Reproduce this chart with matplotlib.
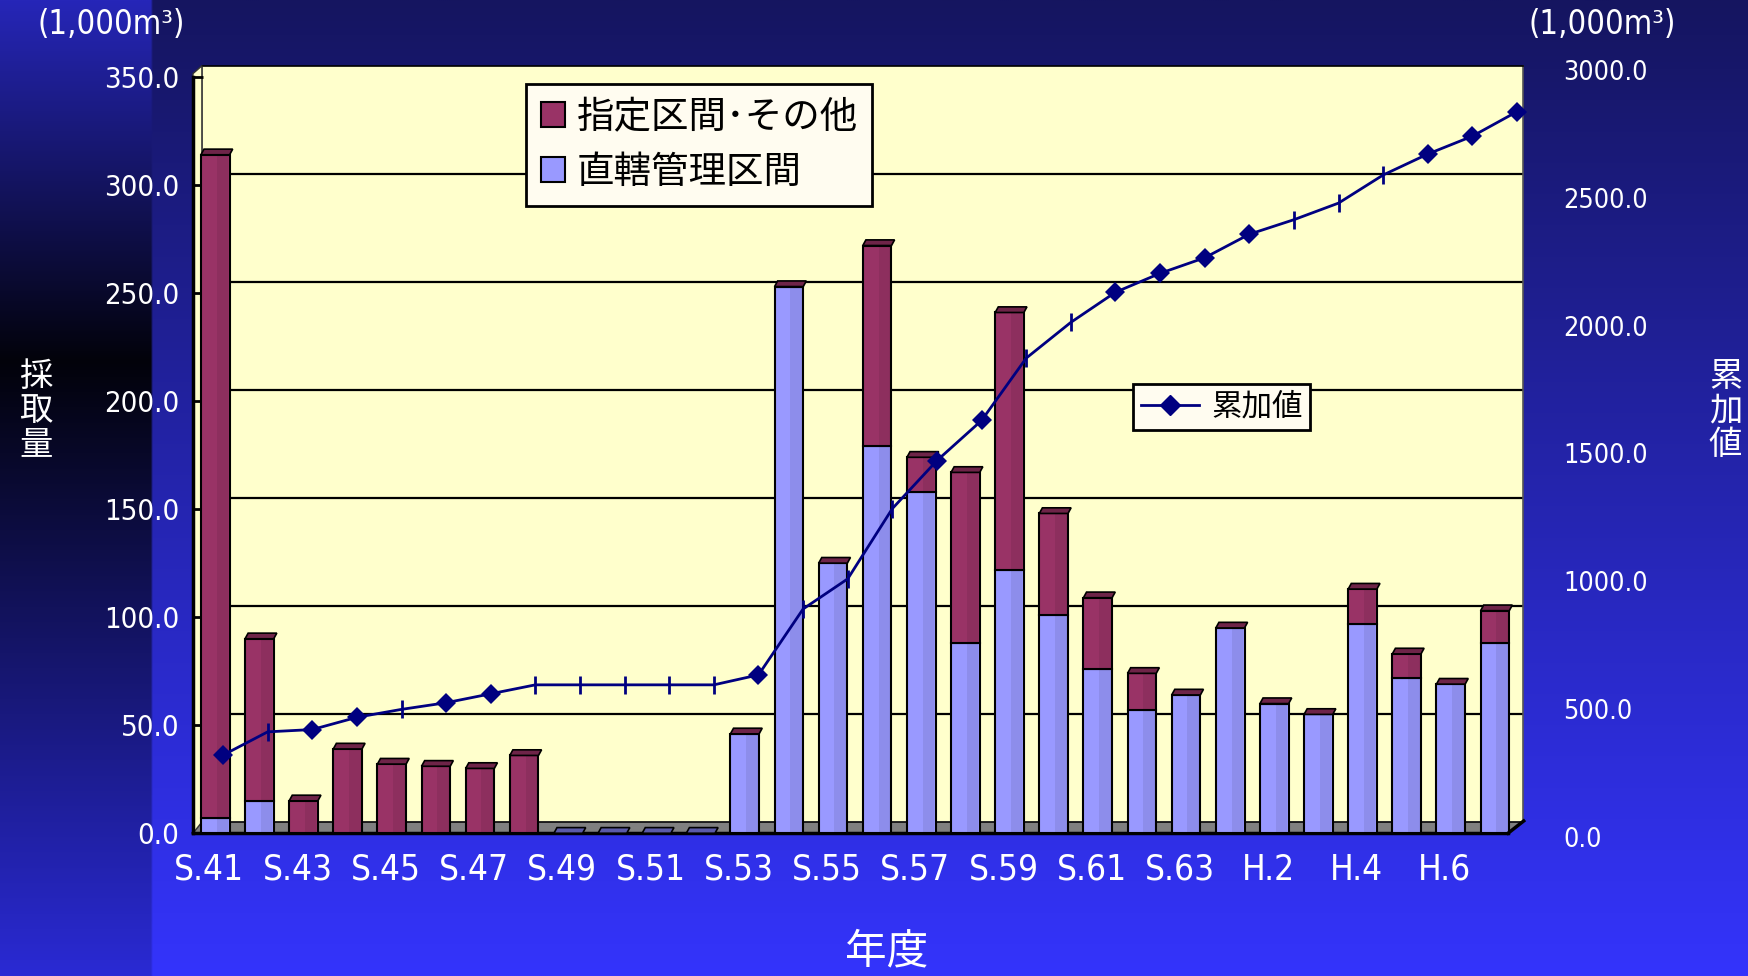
import numpy as np
import matplotlib
matplotlib.use('Agg')
import matplotlib.pyplot as plt
from matplotlib import font_manager as fm
from matplotlib.patches import Patch, Polygon
from matplotlib.lines import Line2D
from matplotlib.transforms import ScaledTranslation

# ---- data (1,000 m3) ----
years = ['S.41', 'S.42', 'S.43', 'S.44', 'S.45', 'S.46', 'S.47', 'S.48', 'S.49', 'S.50',
         'S.51', 'S.52', 'S.53', 'S.54', 'S.55', 'S.56', 'S.57', 'S.58', 'S.59', 'S.60',
         'S.61', 'S.62', 'S.63', 'H.1', 'H.2', 'H.3', 'H.4', 'H.5', 'H.6', 'H.7']
chokkatsu = [7, 15, 0, 0, 0, 0, 0, 0, 0, 0, 0, 0, 46, 253, 125,
             179, 158, 88, 122, 101, 76, 57, 64, 95, 60, 55, 97, 72, 69, 88]
shitei = [307, 75, 15, 39, 32, 31, 30, 36, 0, 0, 0, 0, 0, 0, 0,
          93, 16, 79, 119, 47, 33, 17, 0, 0, 0, 0, 16, 11, 0, 15]
ruika = [319, 410, 419, 467, 498, 524, 559, 594, 594, 594, 594, 594, 633, 891, 1009,
         1284, 1472, 1629, 1873, 2013, 2131, 2205, 2266, 2358, 2415, 2480, 2590, 2672, 2742, 2838]
# marker shape of each point on the cumulative line (as drawn in the original)
line_marks = ['D', '|', 'D', 'D', '|', 'D', 'D', '|', '|', '|', '|', '|', 'D', '|', '|',
              '|', 'D', 'D', '|', '|', 'D', 'D', 'D', 'D', '|', '|', '|', 'D', 'D', 'D']

RED = '#993366'
BLUE = '#9999ff'
WALL = '#ffffcc'
NAVY = '#000080'
JP = ['Noto Sans CJK JP', 'DejaVu Sans']

# narrow font for the numbers if one is installed
NUM = {'family': ['Noto Sans CJK JP', 'DejaVu Sans'], 'stretch': 'normal'}
num_scale = 0.8
for f in fm.fontManager.ttflist:
    if f.name == 'Liberation Sans Narrow' and f.weight in (400, 'normal', 'regular'):
        NUM = {'family': ['Liberation Sans Narrow', 'Noto Sans CJK JP'], 'stretch': 'normal'}
        num_scale = 1.0
        break
else:
    for f in fm.fontManager.ttflist:
        if f.name in ('Noto Sans', 'DejaVu Sans', 'Open Sans', 'Roboto') and \
                str(f.stretch) in ('condensed', 'semi-condensed') and f.style == 'normal' and \
                f.weight in (400, 'normal', 'regular'):
            NUM = {'family': [f.name, 'Noto Sans CJK JP'], 'stretch': f.stretch}
            num_scale = 0.84
            break

W, H = 1568.0, 875.0  # layout measured on this grid


def fx(x):
    return x / W


def fy(y):
    return 1 - y / H


fig = plt.figure(figsize=(17.49, 9.76), dpi=100)

# ---- background ----
def grad(pos, cols, n):
    t = np.linspace(0, 1, n)
    rgb = [matplotlib.colors.to_rgb(c) for c in cols]
    return np.stack([np.interp(t, pos, [c[k] for c in rgb]) for k in range(3)], axis=1)

nh, nw = 488, 875
main = grad([0, 0.07, 1], ['#151560', '#17176a', '#3434fc'], nh)
left = grad([0, 0.37, 1], ['#2626b8', '#02020a', '#2a2ad4'], nh)
img = np.repeat(main[:, None, :], nw, axis=1)
img[:, :int(nw * 137 / W), :] = left[:, None, :]
bg = fig.add_axes([0, 0, 1, 1], zorder=-10)
bg.imshow(img, aspect='auto', extent=[0, 1, 0, 1], interpolation='bilinear')
bg.axis('off')

# ---- back wall with gridlines ----
wall = fig.add_axes([fx(181), fy(737), fx(1365) - fx(181), fy(59) - fy(737)], zorder=-5)
wall.set_facecolor(WALL)
wall.set_ylim(0, 350)
wall.set_xlim(0, 1)
wall.set_yticks(np.arange(50, 350, 50))
wall.yaxis.grid(True, color='black', lw=1.6)
wall.tick_params(length=0, labelleft=False, labelbottom=False)
wall.set_xticks([])
for s in wall.spines.values():
    s.set_color('#555555')
    s.set_linewidth(1.2)
wall.spines['top'].set_color('black')

# floor and side wall
fig.add_artist(Polygon([(fx(172), fy(747)), (fx(1352), fy(747)), (fx(1365), fy(737)), (fx(181), fy(737))],
                       closed=True, transform=fig.transFigure, facecolor='#808080',
                       edgecolor='black', lw=1, zorder=-4))
fig.add_artist(Polygon([(fx(173), fy(747)), (fx(173), fy(66)), (fx(181), fy(59)), (fx(181), fy(737))],
                       closed=True, transform=fig.transFigure, facecolor=WALL,
                       edgecolor='#333333', lw=1, zorder=-4))
fig.add_artist(Line2D([fx(1352), fx(1366)], [fy(747), fy(736)], transform=fig.transFigure,
                      color='black', lw=2.5, zorder=2))

# ---- bars ----
ax = fig.add_axes([fx(173.2), fy(747), fx(1360) - fx(173.2), fy(69) - fy(747)], zorder=0)
ax.set_facecolor('none')
x = np.arange(len(years))
bw = 0.65
blue = np.array(chokkatsu, dtype=float)
red = np.array(shitei, dtype=float)
total = blue + red
ax.bar(x, blue, width=bw, color=BLUE, edgecolor='black', lw=1.5, zorder=3)
ax.bar(x, red, width=bw, bottom=blue, color=RED, edgecolor='black', lw=1.5, zorder=3)
# darker right side to give the cylinder look
ax.bar(x + bw * 0.25, total, width=bw * 0.4, color='black', alpha=0.08, lw=0, zorder=4)
# top caps
for xi, t in zip(x, total):
    cap = '#6e2448' if t > 0 else '#5a5aa8'
    ax.add_patch(Polygon([(xi - bw / 2, t), (xi + bw / 2, t), (xi + bw / 2 + 0.07, t + 2.6),
                          (xi - bw / 2 + 0.07, t + 2.6)], closed=True, facecolor=cap,
                         edgecolor='black', lw=1.2, zorder=5))

ax.set_xlim(-0.5, len(years) - 0.5)
ax.set_ylim(0, 350)
ax.set_yticks(np.arange(0, 351, 50))
ax.set_yticklabels(['%.1f' % v for v in np.arange(0, 351, 50)])
ax.set_xticks(x[::2])
ax.set_xticklabels(years[::2])
for s in ['top', 'right']:
    ax.spines[s].set_visible(False)
ax.spines['left'].set_linewidth(2.5)
ax.spines['bottom'].set_linewidth(2.5)
ax.spines['bottom'].set_bounds(-0.5, 29.3)
ax.tick_params(axis='y', direction='in', length=7, width=2, pad=10, labelcolor='white', color='black')
ax.tick_params(axis='x', length=0, pad=14, labelcolor='white')
for lbl in ax.get_yticklabels():
    lbl.set_family(NUM['family'])
    lbl.set_stretch(NUM['stretch'])
    lbl.set_fontsize(25 * num_scale)
for lbl in ax.get_xticklabels():
    lbl.set_family(NUM['family'])
    lbl.set_stretch(NUM['stretch'])
    lbl.set_fontsize(30 * num_scale)
    lbl.set_transform(lbl.get_transform() + ScaledTranslation(-6 / 100, 0, fig.dpi_scale_trans))

# ---- cumulative line on its own axis ----
ax2 = fig.add_axes([fx(180), fy(750), fx(1380) - fx(180), fy(63) - fy(750)], zorder=1)
ax2.set_facecolor('none')
ax2.plot(x, ruika, color=NAVY, lw=2, zorder=3)
for m, ms, mew in [('D', 10, 0), ('|', 13, 2)]:
    idx = [i for i, mk in enumerate(line_marks) if mk == m]
    ax2.plot([x[i] for i in idx], [ruika[i] for i in idx], linestyle='none', marker=m,
             ms=ms, mew=mew, color=NAVY, zorder=4)
ax2.set_xlim(-0.5, len(years) - 0.5)
ax2.set_ylim(0, 3000)
ax2.set_xticks([])
ax2.yaxis.tick_right()
ax2.set_yticks(np.arange(0, 3001, 500))
ax2.set_yticklabels(['%.1f' % v for v in np.arange(0, 3001, 500)])
ax2.tick_params(axis='y', length=0, pad=17, labelcolor='white')
for lbl in ax2.get_yticklabels():
    lbl.set_family(NUM['family'])
    lbl.set_stretch(NUM['stretch'])
    lbl.set_fontsize(23 * num_scale)
for s in ax2.spines.values():
    s.set_visible(False)

# ---- legends ----
h1 = [Patch(facecolor=RED, edgecolor='black', lw=1.5, label='指定区間･その他'),
      Patch(facecolor=BLUE, edgecolor='black', lw=1.5, label='直轄管理区間')]
leg1 = fig.legend(handles=h1, loc='upper left', bbox_to_anchor=(fx(472), fy(75)),
                  borderaxespad=0, prop={'family': JP, 'size': 27}, handlelength=0.65,
                  handleheight=0.65, handletextpad=0.3, labelspacing=0.42, borderpad=0.38,
                  fancybox=False, framealpha=1, facecolor='#fffcf0', edgecolor='black')
leg1.get_frame().set_linewidth(2)
h2 = [Line2D([], [], color=NAVY, lw=2, marker='D', ms=10, label='累加値')]
leg2 = fig.legend(handles=h2, loc='upper left', bbox_to_anchor=(fx(1016), fy(344)),
                  borderaxespad=0, prop={'family': JP, 'size': 22}, handlelength=1.9,
                  handletextpad=0.4, borderpad=0.25, fancybox=False, framealpha=1,
                  facecolor='#fffcf0', edgecolor='black')
leg2.get_frame().set_linewidth(2)

# ---- titles / axis names ----
for xpos in (100, 1436):
    fig.text(fx(xpos), fy(22), '(1,000m³)', color='white', fontsize=28 * num_scale,
             family=NUM['family'], stretch=NUM['stretch'], ha='center', va='center')
fig.text(fx(32), fy(368), '採\n取\n量', color='white', fontsize=24, family=JP, ha='center',
         va='center', linespacing=0.95)
fig.text(fx(1547), fy(368), '累\n加\n値', color='white', fontsize=24, family=JP, ha='center',
         va='center', linespacing=0.95)
fig.text(fx(795), fy(853), '年度', color='white', fontsize=30, family=JP, ha='center', va='center')

fig.savefig('out.png', dpi=100)
